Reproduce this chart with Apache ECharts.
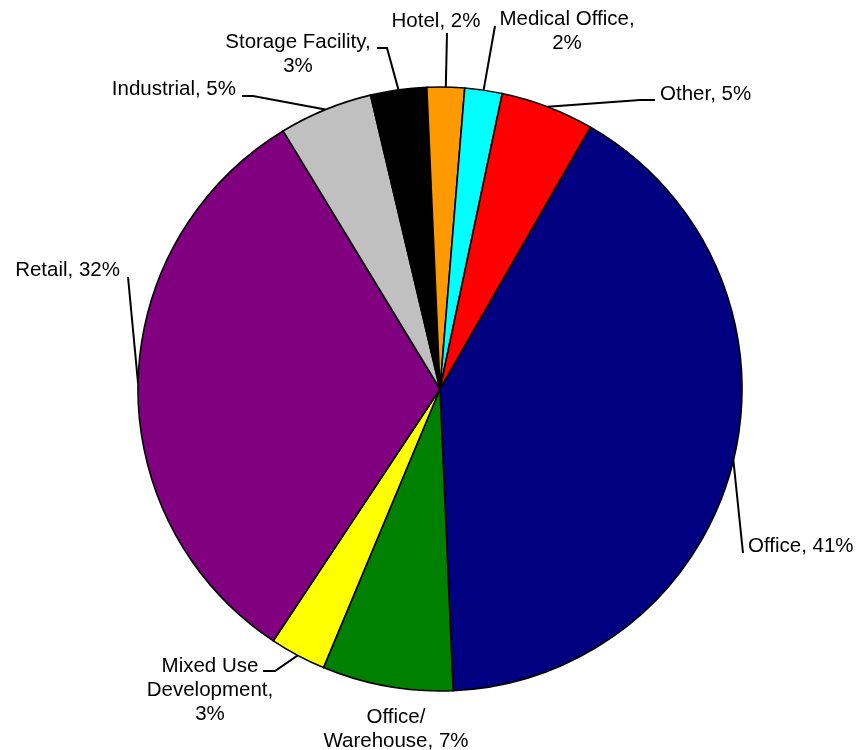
<!DOCTYPE html>
<html>
<head>
<meta charset="utf-8">
<script src="https://cdn.jsdelivr.net/npm/echarts@6/dist/echarts.min.js"></script>
<style>
  html, body { margin: 0; padding: 0; background: #ffffff; }
  #chart { width: 859px; height: 750px; }
</style>
</head>
<body>
<div id="chart"></div>
<script>
// Portfolio composition by property type (percent of total)
const categories = ['Office', 'Office/Warehouse', 'Mixed Use Development', 'Retail', 'Industrial',
                    'Storage Facility', 'Hotel', 'Medical Office', 'Other'];
const shares = [41, 7, 3, 32, 5, 3, 2, 2, 5];
const sliceColors = ['#000080', '#008000', '#FFFF00', '#800080', '#C0C0C0',
                     '#000000', '#FF9900', '#00FFFF', '#FF0000'];

// Where each data label sits, how its text wraps, and the bend of its leader line
const labelPlacement = [
  { x: 748, y: 546, align: 'left',   wrap: [],                                   line: [[743, 553], [743, 553]] },
  { x: 396, y: 729, align: 'center', wrap: [['/', '/\n']],                       line: null },
  { x: 210, y: 690, align: 'center', wrap: [['Use ', 'Use\n'], [', ', ',\n']],   line: [[275, 671], [263, 671]] },
  { x: 120, y: 270, align: 'right',  wrap: [],                                   line: [[128, 277], [128, 277]] },
  { x: 236, y: 89,  align: 'right',  wrap: [],                                   line: [[253, 96], [242, 96]] },
  { x: 298, y: 54,  align: 'center', wrap: [[', ', ',\n']],                      line: [[387, 48], [377, 48]] },
  { x: 436, y: 21,  align: 'center', wrap: [],                                   line: [[447, 33], [447, 33]] },
  { x: 567, y: 31,  align: 'center', wrap: [[', ', ',\n']],                      line: [[495, 26], [495, 26]] },
  { x: 660, y: 94,  align: 'left',   wrap: [],                                   line: [[640, 100], [655, 100]] }
];

function labelText(i) {
  let t = categories[i] + ', ' + shares[i] + '%';
  labelPlacement[i].wrap.forEach(function (r) { t = t.replace(r[0], r[1]); });
  return t;
}

const pieData = categories.map(function (name, i) {
  return {
    name: name,
    value: shares[i],
    itemStyle: { color: sliceColors[i] },
    labelLine: { show: labelPlacement[i].line !== null }
  };
});

const chart = echarts.init(document.getElementById('chart'), null, { renderer: 'canvas' });
chart.setOption({
  backgroundColor: '#ffffff',
  animation: false,
  series: [{
    type: 'pie',
    center: [440, 389],
    radius: 302,
    startAngle: 60.1,
    clockwise: true,
    avoidLabelOverlap: false,
    data: pieData,
    itemStyle: { borderColor: '#000000', borderWidth: 1.6 },
    emphasis: { disabled: true },
    label: {
      show: true,
      position: 'outer',
      formatter: function (p) { return labelText(p.dataIndex); },
      fontFamily: 'Liberation Sans, Arial, sans-serif',
      fontSize: 20.5,
      lineHeight: 24,
      color: '#000000'
    },
    labelLine: {
      show: true,
      length: 10,
      length2: 10,
      lineStyle: { color: '#000000', width: 2 }
    },
    labelLayout: function (params) {
      const p = labelPlacement[params.dataIndex];
      const res = { x: p.x, y: p.y, align: p.align, verticalAlign: 'middle' };
      if (p.line && params.labelLinePoints) {
        res.labelLinePoints = [params.labelLinePoints[0], p.line[0], p.line[1]];
      }
      return res;
    }
  }]
});
</script>
</body>
</html>
